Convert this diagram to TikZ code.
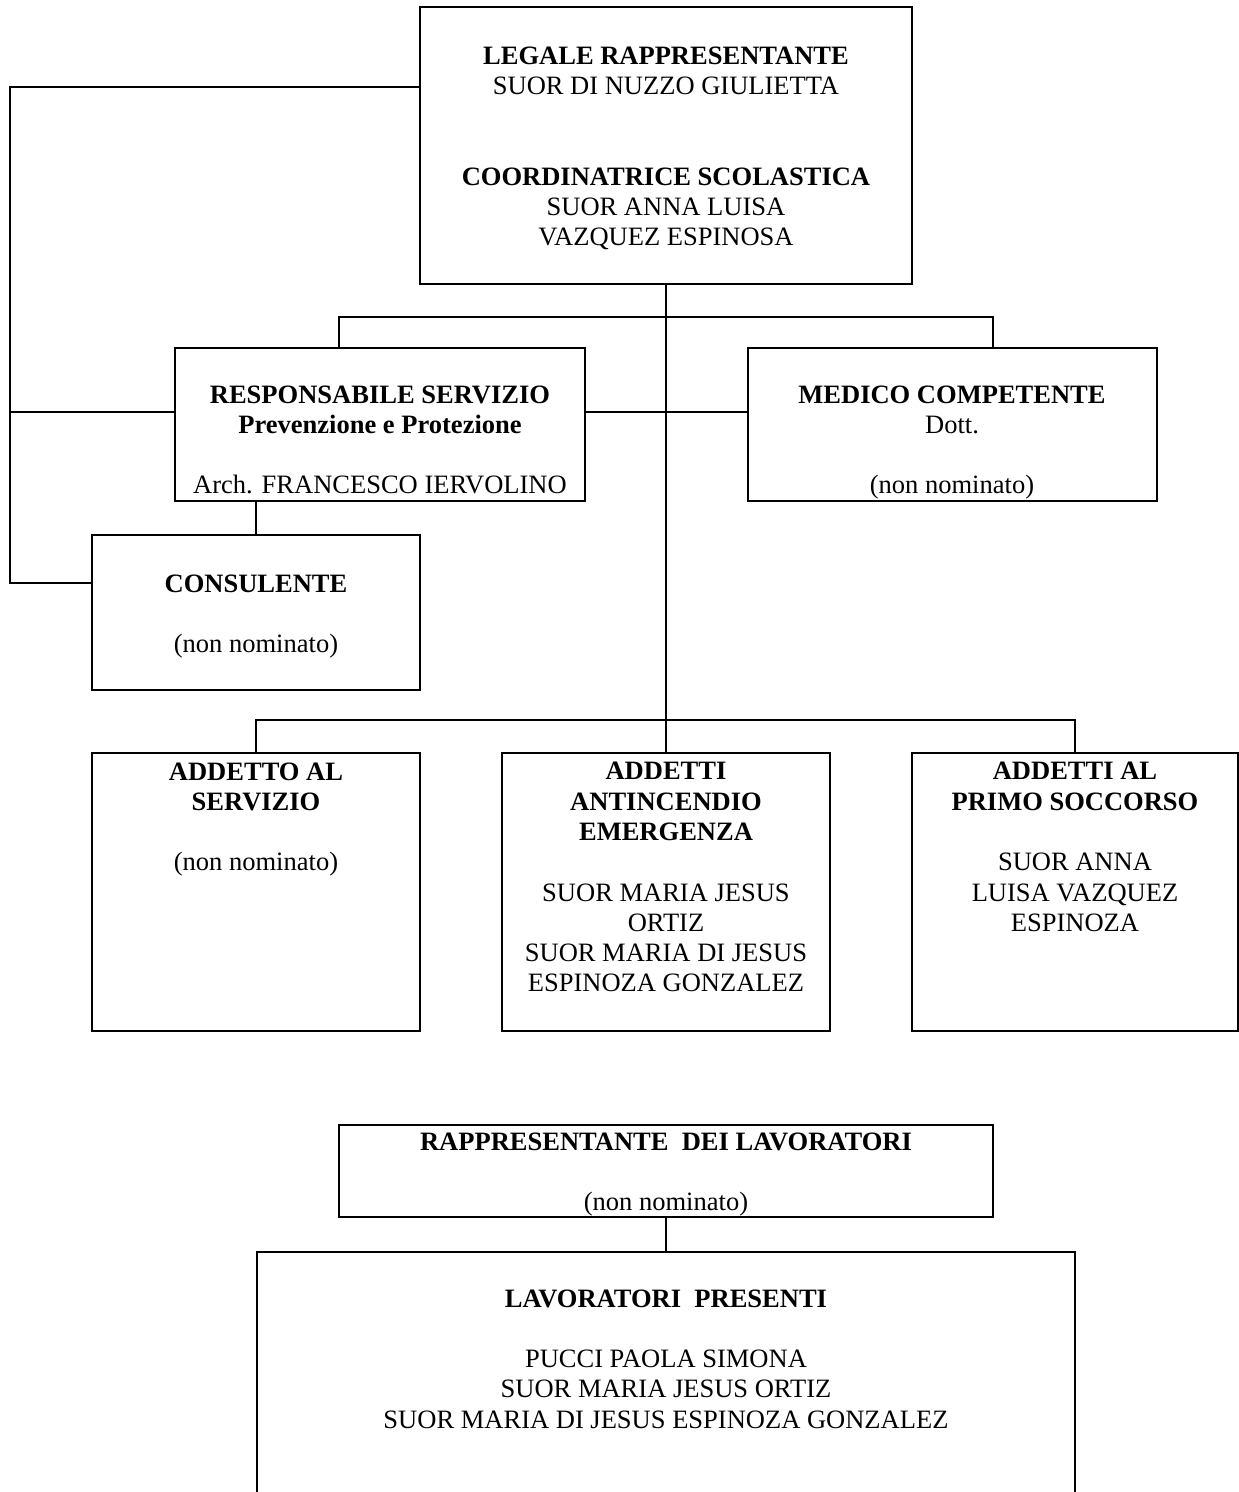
\documentclass[tikz,border=0pt]{standalone}
\usepackage{fontspec}
\setmainfont{Liberation Serif}
\usetikzlibrary{fit,positioning}

\begin{document}
\begin{tikzpicture}[x=0.4525pt,y=-0.4525pt,
orgbox/.style={draw,line width=1.1pt,inner sep=0pt},
orgtext/.style={align=center,inner sep=0pt,anchor=north,font=\fontsize{12pt}{13.7pt}\selectfont},
conn/.style={line width=1.1pt}]
\clip (0,0) rectangle (1239,1492);
\node[orgbox,fit={(420,7) (912,284)}] (LR) {};
\node[orgbox,fit={(175,348) (585,501)}] (RSPP) {};
\node[orgbox,fit={(748,348) (1157,501)}] (MC) {};
\node[orgbox,fit={(92,535) (420,690)}] (CONS) {};
\node[orgbox,fit={(92,753) (420,1031)}] (AS) {};
\node[orgbox,fit={(502,753) (830,1031)}] (AA) {};
\node[orgbox,fit={(912,753) (1238,1031)}] (PS) {};
\node[orgbox,fit={(339,1125) (993,1217)}] (RL) {};
\node[orgbox,fit={(257,1252) (1075,1530)}] (LP) {};
\node[orgtext] (LRt) at (666,46) {\textbf{LEGALE RAPPRESENTANTE}\\SUOR DI NUZZO GIULIETTA\\[27.4pt]\textbf{COORDINATRICE SCOLASTICA}\\SUOR ANNA LUISA\\VAZQUEZ ESPINOSA};
\node[orgtext] (RSPPt) at (380,385) {\textbf{RESPONSABILE SERVIZIO}\\\textbf{Prevenzione e Protezione}\\[13.7pt]Arch. FRANCESCO IERVOLINO};
\node[orgtext] (MCt) at (952,385) {\textbf{MEDICO COMPETENTE}\\Dott.\\[13.7pt](non nominato)};
\node[orgtext] (CONSt) at (256,574) {\textbf{CONSULENTE}\\[13.7pt](non nominato)};
\node[orgtext] (ASt) at (256,762) {\textbf{ADDETTO AL}\\\textbf{SERVIZIO}\\[13.7pt](non nominato)};
\node[orgtext] (AAt) at (666,762) {\textbf{ADDETTI}\\\textbf{ANTINCENDIO}\\\textbf{EMERGENZA}\\[13.7pt]SUOR MARIA JESUS\\ORTIZ\\SUOR MARIA DI JESUS\\ESPINOZA GONZALEZ};
\node[orgtext] (PSt) at (1075,762) {\textbf{ADDETTI AL}\\\textbf{PRIMO SOCCORSO}\\[13.7pt]SUOR ANNA\\LUISA VAZQUEZ\\ESPINOZA};
\node[orgtext] (RLt) at (666,1132) {\textbf{RAPPRESENTANTE\ \ DEI LAVORATORI}\\[13.7pt](non nominato)};
\node[orgtext] (LPt) at (666,1289) {\textbf{LAVORATORI\ \ PRESENTI}\\[13.7pt]PUCCI PAOLA SIMONA\\SUOR MARIA JESUS ORTIZ\\SUOR MARIA DI JESUS ESPINOZA GONZALEZ};
\coordinate (TL) at (10,87);
\coordinate (BL) at (10,583);
\coordinate (RY) at (10,412);
\coordinate (TB) at (339,317);
\coordinate (TBR) at (993,317);
\coordinate (BB) at (666,720);
\draw[conn] (LR.west |- TL) -- (TL) -- (BL) -- (CONS.west |- BL);
\draw[conn] (RY) -- (RSPP.west |- RY);
\draw[conn] (AA.north |- LR.south) -- (AA.north);
\draw[conn] (RSPP.north -| TB) -- (TB) -- (TBR) -- (MC.north -| TBR);
\draw[conn] (RSPP.east |- RY) -- (MC.west |- RY);
\draw[conn] (CONS.north) -- (CONS.north |- RSPP.south);
\draw[conn] (AS.north) |- (BB) -| (PS.north);
\draw[conn] (RL.south) -- (LP.north);
\end{tikzpicture}
\end{document}
